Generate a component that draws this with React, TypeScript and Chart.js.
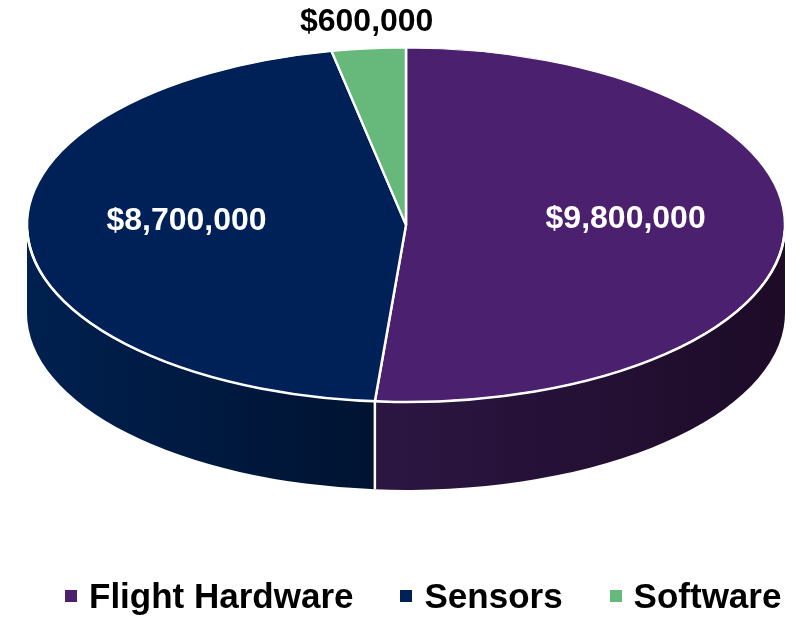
import { useEffect, useRef } from 'react';
import { Chart, registerables } from 'chart.js';

Chart.register(...registerables);

// ---- data ----
const categories = ['Flight Hardware', 'Sensors', 'Software'];
const values = [9800000, 8700000, 600000];

// ---- styles ----
const topColors = ['#4B206F', '#002157', '#67B97B'];
const sideLightColors = ['#2B1642', '#00204F', '#4E9460'];
const sideDarkColors = ['#1D0B28', '#001331', '#3A7048'];
const TILT = 0.467; // vertical squash of the top face
const DEPTH = 0.232; // side height relative to radius
const RADIUS = 379;
const FONT = '"Liberation Sans", Arial, Helvetica, sans-serif';

const fmt = (v: number) => '$' + v.toLocaleString('en-US');

const pie3d = {
  id: 'pie3d',
  beforeDatasetsDraw(chart: any) {
    const meta = chart.getDatasetMeta(0);
    const arcs = meta.data;
    if (!arcs.length) return;
    const { x: cx, y: cy, outerRadius: r } = arcs[0].getProps(['x', 'y', 'outerRadius'], true);
    const ry = r * TILT;
    const depth = r * DEPTH;
    const cyT = chart.chartArea.top + ry;
    const ctx = chart.ctx;
    ctx.save();
    arcs.forEach((arc: any, i: number) => {
      const { startAngle, endAngle } = arc.getProps(['startAngle', 'endAngle'], true);
      for (let k = -1; k <= 1; k++) {
        const lo = 2 * Math.PI * k;
        const a = Math.max(startAngle, lo);
        const b = Math.min(endAngle, lo + Math.PI);
        if (b <= a) continue;
        const xa = cx + r * Math.cos(a);
        const xb = cx + r * Math.cos(b);
        const grad = ctx.createLinearGradient(Math.min(xa, xb), 0, Math.max(xa, xb), 0);
        grad.addColorStop(0, sideLightColors[i]);
        grad.addColorStop(1, sideDarkColors[i]);
        ctx.beginPath();
        ctx.ellipse(cx, cyT, r, ry, 0, a, b);
        ctx.lineTo(cx + r * Math.cos(b), cyT + ry * Math.sin(b) + depth);
        ctx.ellipse(cx, cyT + depth, r, ry, 0, b, a, true);
        ctx.closePath();
        ctx.fillStyle = grad;
        ctx.fill();
      }
    });
    // white seams on the side between slices
    ctx.strokeStyle = '#FFFFFF';
    ctx.lineWidth = 2.5;
    arcs.forEach((arc: any) => {
      const { startAngle } = arc.getProps(['startAngle'], true);
      const s = Math.sin(startAngle);
      if (s > 0.02) {
        const x = cx + r * Math.cos(startAngle);
        const y = cyT + ry * s;
        ctx.beginPath();
        ctx.moveTo(x, y);
        ctx.lineTo(x, y + depth);
        ctx.stroke();
      }
    });
    ctx.restore();
    // squash top face into an ellipse
    ctx.save();
    ctx.translate(0, cyT);
    ctx.scale(1, TILT);
    ctx.translate(0, -cy);
  },
  afterDatasetsDraw(chart: any) {
    const ctx = chart.ctx;
    ctx.restore();
    const meta = chart.getDatasetMeta(0);
    const arcs = meta.data;
    if (!arcs.length) return;
    const { x: cx, outerRadius: r } = arcs[0].getProps(['x', 'outerRadius'], true);
    const ry = r * TILT;
    const cyT = chart.chartArea.top + ry;
    ctx.save();
    ctx.strokeStyle = '#FFFFFF';
    ctx.lineWidth = 2.5;
    ctx.beginPath();
    ctx.ellipse(cx, cyT, r, ry, 0, 0.03, Math.PI - 0.03);
    ctx.stroke();

    const total = values.reduce((s, v) => s + v, 0);
    ctx.font = `bold 32px ${FONT}`;
    ctx.textAlign = 'center';
    ctx.textBaseline = 'middle';
    arcs.forEach((arc: any, i: number) => {
      const { startAngle, endAngle } = arc.getProps(['startAngle', 'endAngle'], true);
      const mid = (startAngle + endAngle) / 2;
      const frac = values[i] / total;
      const text = fmt(values[i]);
      if (frac > 0.05) {
        const f = 0.58;
        ctx.fillStyle = '#FFFFFF';
        ctx.fillText(text, cx + f * r * Math.cos(mid), cyT + f * ry * Math.sin(mid) - 10);
      } else {
        const ex = cx + r * Math.cos(mid);
        const ey = cyT + ry * Math.sin(mid);
        ctx.fillStyle = '#000000';
        ctx.fillText(text, ex + 20 * Math.cos(mid), ey + 27 * Math.sin(mid));
      }
    });
    ctx.restore();
  },
};

export default function App() {
  const ref = useRef<HTMLCanvasElement | null>(null);
  useEffect(() => {
    if (!ref.current) return;
    const chart = new Chart(ref.current, {
      type: 'pie',
      data: {
        labels: categories,
        datasets: [
          {
            data: values,
            backgroundColor: topColors,
            borderColor: '#FFFFFF',
            borderWidth: 2.5,
            radius: RADIUS,
            clip: false,
          } as any,
        ],
      },
      options: {
        responsive: false,
        animation: false,
        events: [],
        layout: { padding: { left: 12, top: 48, right: 0, bottom: 0 } },
        plugins: { legend: { display: false }, tooltip: { enabled: false } },
      },
      plugins: [pie3d],
    });
    return () => chart.destroy();
  }, []);

  return (
    <div style={{ position: 'fixed', left: 0, top: 0, width: 800, height: 619, background: '#FFFFFF' }}>
      <canvas ref={ref} width={800} height={619} style={{ display: 'block', position: 'absolute', left: 0, top: 0 }} />
      <div
        style={{
          position: 'absolute',
          left: 65,
          top: 576,
          height: 40,
          display: 'flex',
          alignItems: 'center',
          gap: 47,
          fontFamily: FONT,
          fontWeight: 'bold',
          fontSize: 35,
          lineHeight: '40px',
          color: '#000000',
          whiteSpace: 'nowrap',
        }}
      >
        {categories.map((c, i) => (
          <div key={c} style={{ display: 'flex', alignItems: 'center' }}>
            <span style={{ display: 'inline-block', width: 12, height: 12, background: topColors[i], marginRight: 12 }} />
            <span>{c}</span>
          </div>
        ))}
      </div>
    </div>
  );
}
